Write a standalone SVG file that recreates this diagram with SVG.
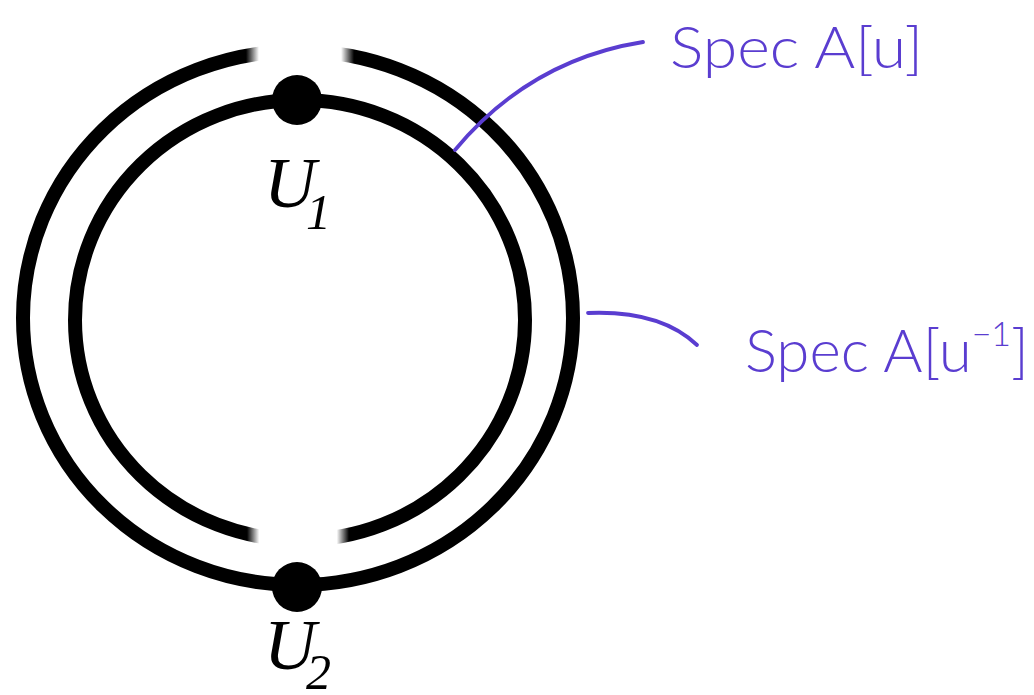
<svg xmlns="http://www.w3.org/2000/svg" width="1034" height="695" viewBox="0 0 1034 695">
  <defs>
    <linearGradient id="fade" x1="0" y1="0" x2="1" y2="0">
      <stop offset="0" stop-color="#fff" stop-opacity="0"/>
      <stop offset="0.12" stop-color="#fff" stop-opacity="1"/>
      <stop offset="0.88" stop-color="#fff" stop-opacity="1"/>
      <stop offset="1" stop-color="#fff" stop-opacity="0"/>
    </linearGradient>
    <style>
      .ring { fill: none; stroke: #000; stroke-width: 14; }
      .dot { fill: #000; }
      .lab { font-family: "Liberation Serif", "Times New Roman", serif; font-style: italic; fill: #000; }
      .ink { fill: none; stroke: #5a3dd0; stroke-width: 3.8; stroke-linecap: round; }
      .hand { font-family: "Lato", "DejaVu Sans", sans-serif; font-weight: 300; fill: #5a3dd0; }
    </style>
  </defs>
  <rect width="1034" height="695" fill="#fff"/>
  <g id="outer-ring">
    <ellipse class="ring" cx="298" cy="318" rx="275" ry="267"/>
    <rect x="246" y="36" width="108" height="34" fill="url(#fade)"/>
  </g>
  <g id="inner-ring">
    <ellipse class="ring" cx="300" cy="320" rx="225" ry="220"/>
    <rect x="247" y="523" width="102" height="30" fill="url(#fade)"/>
  </g>
  <g id="U1">
    <circle class="dot" cx="297" cy="100" r="25"/>
    <text class="lab" font-size="72" x="264" y="207">U<tspan font-size="50" x="306" y="229">1</tspan></text>
  </g>
  <g id="U2">
    <circle class="dot" cx="297" cy="587" r="25"/>
    <text class="lab" font-size="72" x="264" y="669">U<tspan font-size="50" x="306" y="689">2</tspan></text>
  </g>
  <g id="connectors">
    <path class="ink" d="M455,150 Q530,60 643,42"/>
    <path class="ink" d="M588,313 Q660,310 697,345"/>
  </g>
  <g id="label-spec-au">
    <text class="hand" font-size="58" x="670" y="68" textLength="253" lengthAdjust="spacingAndGlyphs">Spec A[u]</text>
  </g>
  <g id="label-spec-au-inv">
    <text class="hand" font-size="60" x="745" y="372">Spec A[u<tspan font-size="34" dy="-26">−1</tspan><tspan dy="26">]</tspan></text>
  </g>
</svg>
